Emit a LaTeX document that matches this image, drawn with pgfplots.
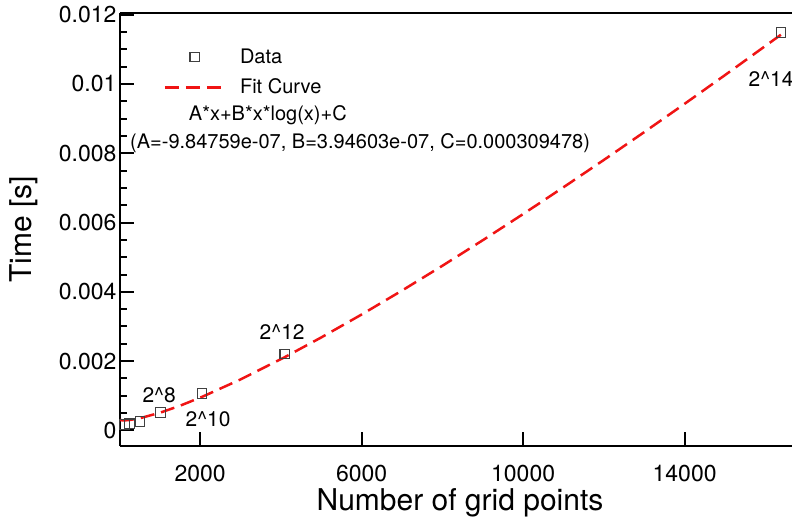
\documentclass[border=0pt]{standalone}
\usepackage{pgfplots}
\pgfplotsset{compat=1.18}
\usepackage{fontspec}
\setmainfont{TeX Gyre Heros}
\definecolor{fitred}{RGB}{240,20,20}
\begin{document}
\begin{tikzpicture}
\begin{axis}[
  at={(0pt,0pt)}, anchor=south west,
  scale only axis, width=672pt, height=433pt,
  xmin=15, xmax=16660, ymin=-0.00045, ymax=0.01205,
  axis x line*=bottom, axis y line*=left,
  axis line style={line width=2.5pt},
  scaled x ticks=false, scaled y ticks=false,
  xtick={2000,6000,10000,14000}, xticklabels={2000,6000,10000,14000},
  ytick={0,0.002,0.004,0.006,0.008,0.01,0.012},
  yticklabels={0,0.002,0.004,0.006,0.008,0.01,0.012},
  minor y tick num=3,
  tick align=inside, major tick length=14pt, minor tick length=7pt,
  every tick/.style={black, line width=2pt},
  tick label style={font=\fontsize{23}{27}\selectfont},
  xticklabel style={yshift=-16pt},
  xlabel={Number of grid points}, ylabel={Time [s]},
  every axis x label/.style={at={([yshift=-57pt]rel axis cs:0.506,0)}, anchor=center, font=\fontsize{30}{36}\selectfont},
  every axis y label/.style={at={([xshift=-96pt]rel axis cs:0,0.5)}, anchor=center, rotate=90, font=\fontsize{30}{36}\selectfont},
  clip=false,
  legend image code/.code={\draw[mark repeat=2,mark phase=2,#1] plot coordinates {(0pt,0pt) (30pt,0pt) (60pt,0pt)};},
  legend style={at={(0.0645,0.922)}, anchor=north west, draw=none, fill=none,
    font=\fontsize{20}{24}\selectfont, row sep=10pt, column sep=12pt, inner sep=0pt},
  legend cell align=left,
]
\draw[line width=2.5pt] (rel axis cs:0,1) -- (rel axis cs:1,1);
\addplot[only marks, mark=square, mark size=4.8pt, mark options={draw=black!75, line width=1.1pt, fill=none}]
coordinates {
(128,0.00017) (256,0.00019) (512,0.00026) (1024,0.00051) (2048,0.00106) (4096,0.00221) (16384,0.01148)
};
\addlegendentry{Data}
\addplot[color=fitred, line width=2.5pt, dash pattern=on 14pt off 7pt]
coordinates {
(16,0.00030132) (64,0.00029207) (128,0.00028986) (256,0.00030066) (512,0.00035265)
(1024,0.00051747) (1500,0.00071228) (2048,0.00096873) (3000,0.00147145) (4096,0.00211455)
(5000,0.00268383) (6000,0.00334614) (7000,0.00403719) (8000,0.00475276) (9000,0.00548988)
(10000,0.00624601) (11000,0.00701937) (12000,0.00780828) (13000,0.00861154) (14000,0.00942796)
(15000,0.01025658) (16384,0.01142228)
};
\addlegendentry{Fit Curve}
\node[font=\fontsize{20}{24}\selectfont] at (rel axis cs:0.220,0.765) {A*x+B*x*log(x)+C};
\node[font=\fontsize{20}{24}\selectfont, anchor=west, inner sep=0pt] at (rel axis cs:0.0149,0.700) {(A=-9.84759e-07, B=3.94603e-07, C=0.000309478)};
\node[font=\fontsize{21}{25}\selectfont] at (axis cs:985,0.00101) {2\textasciicircum 8};
\node[font=\fontsize{21}{25}\selectfont] at (axis cs:2198,0.00032) {2\textasciicircum 10};
\node[font=\fontsize{21}{25}\selectfont] at (axis cs:4032,0.00283) {2\textasciicircum 12};
\node[font=\fontsize{21}{25}\selectfont] at (axis cs:16140,0.01013) {2\textasciicircum 14};
\end{axis}
\pgfresetboundingbox
\path[use as bounding box] (-120pt,-76pt) rectangle (672pt,446pt);
\end{tikzpicture}
\end{document}
